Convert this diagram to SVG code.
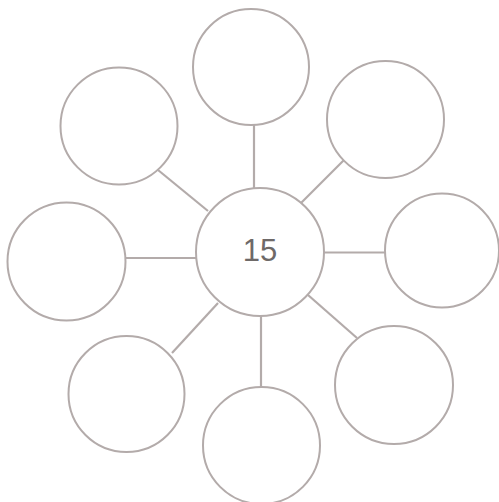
<svg xmlns="http://www.w3.org/2000/svg" width="499" height="502" viewBox="0 0 499 502">
<style>
.n{fill:#fff;stroke:#b3abaa;stroke-width:2}
.c line{stroke:#b3abaa;stroke-width:2.2}
.t{font-family:"Liberation Sans",Arial,sans-serif;font-size:31px;fill:#6e6968;text-anchor:middle}
</style>
<rect width="499" height="502" fill="#fff"/>
<g class="c" id="connectors">
<line x1="254" y1="125" x2="254" y2="188"/>
<line x1="158" y1="170" x2="208" y2="211"/>
<line x1="344" y1="160" x2="301" y2="203"/>
<line x1="125" y1="258" x2="196" y2="258"/>
<line x1="323" y1="252.5" x2="388" y2="252.5"/>
<line x1="172" y1="353" x2="218" y2="303"/>
<line x1="261" y1="315" x2="261" y2="387"/>
<line x1="308" y1="295" x2="357" y2="338"/>
</g>
<g id="center"><circle class="n" cx="260" cy="252" r="64"/><text class="t" x="260" y="261">15</text></g>
<g id="top"><circle class="n" cx="251" cy="67" r="58"/></g>
<g id="top-left"><circle class="n" cx="119" cy="126" r="58.5"/></g>
<g id="top-right"><circle class="n" cx="385.5" cy="119.5" r="58.5"/></g>
<g id="left"><circle class="n" cx="66.5" cy="261.5" r="59"/></g>
<g id="right"><circle class="n" cx="442" cy="250.5" r="57"/></g>
<g id="bottom-left"><circle class="n" cx="126.5" cy="394" r="58"/></g>
<g id="bottom"><circle class="n" cx="261.5" cy="445.5" r="58.5"/></g>
<g id="bottom-right"><circle class="n" cx="394" cy="385" r="59"/></g>
</svg>
